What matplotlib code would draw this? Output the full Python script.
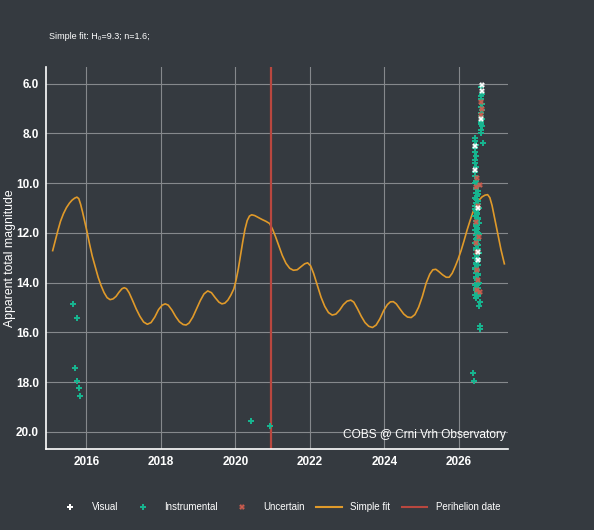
import matplotlib
matplotlib.use('Agg')
import matplotlib.pyplot as plt
from matplotlib.lines import Line2D

plt.rcParams['font.family'] = ['Liberation Sans', 'DejaVu Sans']

BG = '#353a40'
GRID = '#85888c'
FIT_COLOR = '#e09a2a'
PERI_COLOR = '#b9473f'
INST_COLOR = '#17b48f'
UNC_COLOR = '#cd5c4e'
VIS_COLOR = '#ffffff'

# simple fit curve (year, magnitude)
fit_x = [2015.10, 2015.17, 2015.24, 2015.31, 2015.39, 2015.47, 2015.55, 2015.62, 2015.69,
         2015.75, 2015.80, 2015.85, 2015.90, 2015.96, 2016.02, 2016.09, 2016.16, 2016.24,
         2016.32, 2016.40, 2016.48, 2016.56, 2016.64, 2016.72, 2016.80, 2016.88, 2016.96,
         2017.02, 2017.08, 2017.15, 2017.24, 2017.34, 2017.44, 2017.54, 2017.64, 2017.74,
         2017.84, 2017.94, 2018.04, 2018.12, 2018.20, 2018.30, 2018.40, 2018.50, 2018.60,
         2018.68, 2018.76, 2018.86, 2018.96, 2019.06, 2019.16, 2019.26, 2019.36, 2019.46,
         2019.56, 2019.64, 2019.72, 2019.80, 2019.88, 2019.96, 2020.02, 2020.08, 2020.14,
         2020.20, 2020.26, 2020.32, 2020.38, 2020.44, 2020.52, 2020.62, 2020.72, 2020.82,
         2020.92, 2021.00, 2021.08, 2021.16, 2021.26, 2021.36, 2021.46, 2021.56, 2021.66,
         2021.76, 2021.86, 2021.94, 2022.02, 2022.10, 2022.20, 2022.30, 2022.40, 2022.50,
         2022.60, 2022.70, 2022.80, 2022.90, 2023.00, 2023.10, 2023.18, 2023.28, 2023.38,
         2023.48, 2023.58, 2023.68, 2023.78, 2023.88, 2023.98, 2024.08, 2024.16, 2024.24,
         2024.32, 2024.42, 2024.52, 2024.62, 2024.72, 2024.82, 2024.92, 2025.02, 2025.12,
         2025.22, 2025.30, 2025.38, 2025.46, 2025.56, 2025.66, 2025.74, 2025.82, 2025.90,
         2025.98, 2026.06, 2026.14, 2026.22, 2026.30, 2026.38, 2026.46, 2026.54, 2026.62,
         2026.70, 2026.77, 2026.83, 2026.89, 2026.95, 2027.01, 2027.07, 2027.13, 2027.18,
         2027.22]
fit_y = [12.71, 12.30, 11.90, 11.53, 11.22, 10.98, 10.80, 10.68, 10.60,
         10.56, 10.62, 10.85, 11.15, 11.55, 11.94, 12.45, 12.92, 13.35,
         13.78, 14.12, 14.40, 14.60, 14.68, 14.65, 14.55, 14.38, 14.24,
         14.20, 14.24, 14.40, 14.70, 15.05, 15.35, 15.58, 15.67, 15.60,
         15.38, 15.08, 14.90, 14.85, 14.90, 15.10, 15.36, 15.57, 15.68,
         15.70, 15.62, 15.38, 15.05, 14.72, 14.45, 14.33, 14.40, 14.60,
         14.78, 14.85, 14.82, 14.70, 14.50, 14.25, 13.90, 13.45, 12.90,
         12.35, 11.85, 11.50, 11.32, 11.27, 11.30, 11.38, 11.46, 11.53,
         11.62, 11.85, 12.15, 12.48, 12.90, 13.22, 13.42, 13.50, 13.48,
         13.36, 13.24, 13.20, 13.32, 13.62, 14.10, 14.58, 14.95, 15.20,
         15.30, 15.26, 15.10, 14.88, 14.74, 14.70, 14.78, 15.05, 15.35,
         15.60, 15.75, 15.80, 15.70, 15.45, 15.12, 14.88, 14.77, 14.76,
         14.85, 15.06, 15.26, 15.38, 15.40, 15.28, 14.98, 14.55, 14.02,
         13.65, 13.48, 13.46, 13.55, 13.68, 13.78, 13.78, 13.62, 13.35,
         13.05, 12.70, 12.30, 11.88, 11.50, 11.15, 10.88, 10.68, 10.55,
         10.48, 10.46, 10.58, 10.90, 11.35, 11.80, 12.25, 12.68, 13.00,
         13.24]

perihelion = 2020.97

# instrumental observations
inst_x = [2015.64, 2015.75, 2015.71, 2015.74, 2015.80, 2015.83,
          2020.41, 2020.92,
          2026.38, 2026.41, 2026.56, 2026.57, 2026.54, 2026.56, 2026.45,
          2026.60, 2026.61, 2026.60, 2026.59, 2026.61, 2026.60, 2026.61, 2026.60,
          2026.59, 2026.61, 2026.60, 2026.60, 2026.61, 2026.59, 2026.60,
          2026.65,
          2026.44, 2026.43, 2026.45, 2026.44, 2026.43, 2026.45, 2026.44, 2026.43,
          2026.45, 2026.44, 2026.44,
          2026.47, 2026.44, 2026.50, 2026.46, 2026.52, 2026.45, 2026.48, 2026.43,
          2026.51, 2026.47, 2026.44, 2026.53, 2026.46, 2026.49, 2026.42, 2026.50,
          2026.47, 2026.54, 2026.45, 2026.49, 2026.43, 2026.51, 2026.46, 2026.48,
          2026.52, 2026.44, 2026.50, 2026.47, 2026.45, 2026.53, 2026.48, 2026.43,
          2026.50, 2026.46, 2026.52, 2026.44, 2026.49, 2026.47, 2026.51, 2026.45,
          2026.48, 2026.53, 2026.44, 2026.50, 2026.46, 2026.49, 2026.43, 2026.52,
          2026.47, 2026.50,
          2026.49, 2026.45, 2026.52, 2026.47, 2026.50, 2026.44, 2026.48, 2026.51,
          2026.46, 2026.49, 2026.53, 2026.45, 2026.48, 2026.50, 2026.46, 2026.52,
          2026.47, 2026.44, 2026.50, 2026.48, 2026.51, 2026.46, 2026.49, 2026.47]
inst_y = [14.84, 15.43, 17.44, 17.94, 18.25, 18.56,
          19.55, 19.75,
          17.64, 17.95, 15.72, 15.85, 14.93, 14.76, 14.20,
          6.15, 6.40, 6.50, 6.62, 6.80, 6.92, 7.05, 7.18,
          7.30, 7.40, 7.52, 7.62, 7.72, 7.85, 8.00,
          8.40,
          8.20, 8.32, 8.45, 8.60, 8.75, 8.90, 9.05, 9.20,
          9.35, 9.55, 9.70,
          9.90, 10.00, 10.10, 10.20, 10.30, 10.40, 10.50, 10.60,
          10.70, 10.80, 10.90, 11.00, 11.10, 11.20, 11.30, 11.40,
          11.50, 11.60, 11.70, 11.80, 11.90, 12.00, 12.10, 12.20,
          12.30, 12.40, 12.50, 12.60, 12.70, 12.80, 12.90, 13.00,
          13.10, 13.20, 13.30, 13.40, 13.50, 13.60, 13.70, 13.80,
          13.90, 14.00, 14.10, 14.20, 14.30, 14.40, 14.50, 14.55,
          14.62, 14.45,
          10.05, 10.25, 10.45, 10.65, 10.85, 11.05, 11.25, 11.45,
          11.65, 11.85, 12.05, 12.25, 12.45, 12.65, 12.85, 13.05,
          13.25, 13.45, 13.65, 13.85, 14.05, 14.25, 14.35, 13.75]

# visual observations
vis_x = [2026.61, 2026.61, 2026.60, 2026.44, 2026.44, 2026.50, 2026.52, 2026.50]
vis_y = [6.05, 6.30, 7.43, 8.50, 9.45, 11.00, 12.75, 13.10]

# uncertain observations
unc_x = [2026.60, 2026.61, 2026.60, 2026.49, 2026.56, 2026.47, 2026.51, 2026.47,
         2026.53, 2026.49, 2026.49, 2026.50, 2026.49, 2026.57, 2026.46]
unc_y = [6.75, 7.00, 7.25, 9.80, 10.08, 10.15, 10.90, 11.55,
         12.15, 12.75, 13.50, 13.90, 14.30, 14.36, 12.40]

fig = plt.figure(figsize=(5.94, 5.30), dpi=100, facecolor=BG)
ax = fig.add_axes([0.0774, 0.153, 0.778, 0.721])
ax.set_facecolor(BG)

ax.grid(True, color=GRID, linewidth=0.8)
ax.set_axisbelow(True)

ax.plot(fit_x, fit_y, color=FIT_COLOR, linewidth=1.2, solid_joinstyle='round', zorder=2)
ax.axvline(perihelion, color=PERI_COLOR, linewidth=1.6, zorder=2)

ax.plot(inst_x, inst_y, linestyle='none', marker='P', markersize=4.8,
        color=INST_COLOR, markeredgewidth=0, zorder=3)
ax.plot(unc_x, unc_y, linestyle='none', marker='X', markersize=4.2,
        color=UNC_COLOR, markeredgewidth=0, zorder=4)
ax.plot(vis_x, vis_y, linestyle='none', marker='X', markersize=4.2,
        color=VIS_COLOR, markeredgewidth=0, zorder=5)

ax.set_xlim(2014.92, 2027.32)
ax.set_ylim(20.68, 5.32)
ax.set_xticks([2016, 2018, 2020, 2022, 2024, 2026])
ax.set_yticks([6, 8, 10, 12, 14, 16, 18, 20])
ax.set_yticklabels(['6.0', '8.0', '10.0', '12.0', '14.0', '16.0', '18.0', '20.0'])
ax.tick_params(length=0, pad=5, labelcolor='white', labelsize=8.5)
for lab in ax.get_xticklabels() + ax.get_yticklabels():
    lab.set_fontweight('bold')

for side in ['top', 'right']:
    ax.spines[side].set_visible(False)
for side in ['left', 'bottom']:
    ax.spines[side].set_color('white')
    ax.spines[side].set_linewidth(1.2)

ax.set_ylabel('Apparent total magnitude', color='white', fontsize=8.8)
ax.yaxis.set_label_coords(-0.064, 0.5)

ax.text(0.995, 0.037, 'COBS @ Crni Vrh Observatory', transform=ax.transAxes,
        ha='right', va='center', color='white', fontsize=8.6)

fig.text(0.082, 0.932, 'Simple fit: H\u2080=9.3; n=1.6;', color='white', fontsize=6.5,
         ha='left', va='center')

handles = [
    Line2D([], [], linestyle='none', marker='P', markersize=4.5, color=VIS_COLOR, markeredgewidth=0),
    Line2D([], [], linestyle='none', marker='P', markersize=4.5, color=INST_COLOR, markeredgewidth=0),
    Line2D([], [], linestyle='none', marker='X', markersize=4.0, color=UNC_COLOR, markeredgewidth=0),
    Line2D([], [], color=FIT_COLOR, linewidth=1.5),
    Line2D([], [], color=PERI_COLOR, linewidth=1.5),
]
labels = ['Visual', 'Instrumental', 'Uncertain', 'Simple fit', 'Perihelion date']
leg = fig.legend(handles, labels, loc='center', bbox_to_anchor=(0.47, 0.043), ncol=5,
                 frameon=False, fontsize=7, labelcolor='white', handlelength=2.6,
                 columnspacing=1.2, handletextpad=0.9)

fig.savefig('out.png', dpi=100, facecolor=BG)
